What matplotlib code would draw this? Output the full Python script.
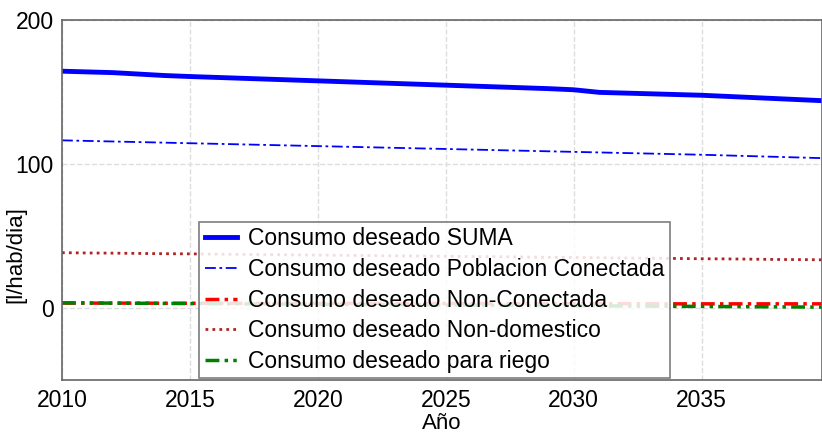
import matplotlib
matplotlib.use("Agg")
import matplotlib.pyplot as plt

years = list(range(2010, 2041))
suma = [164.5, 164.0, 163.5, 162.5, 161.5, 160.8, 160.2, 159.6, 159.0, 158.4,
        157.8, 157.2, 156.6, 156.0, 155.4, 154.8, 154.2, 153.6, 153.0, 152.4,
        151.6, 149.8, 149.3, 148.8, 148.3, 147.8, 147.0, 146.2, 145.4, 144.6, 143.8]
conectada = [116.5, 116.1, 115.7, 115.3, 114.9, 114.5, 114.1, 113.7, 113.3, 112.9,
             112.5, 112.1, 111.7, 111.3, 110.9, 110.5, 110.1, 109.7, 109.3, 108.9,
             108.5, 108.1, 107.7, 107.3, 106.9, 106.5, 106.0, 105.5, 105.0, 104.5, 104.0]
non_conectada = [3.5, 3.5, 3.5, 3.5, 3.4, 3.4, 3.4, 3.4, 3.3, 3.3,
                 3.3, 3.3, 3.3, 3.2, 3.2, 3.2, 3.2, 3.2, 3.1, 3.1,
                 3.1, 3.1, 3.1, 3.0, 3.0, 3.0, 3.0, 3.0, 3.0, 3.0, 3.0]
non_domestico = [38.5, 38.3, 38.2, 38.0, 37.8, 37.7, 37.5, 37.3, 37.2, 37.0,
                 36.8, 36.7, 36.5, 36.3, 36.2, 36.0, 35.8, 35.7, 35.5, 35.3,
                 35.2, 35.0, 34.8, 34.7, 34.5, 34.3, 34.2, 34.0, 33.8, 33.7, 33.5]
riego = [3.7, 3.6, 3.5, 3.4, 3.3, 3.2, 3.1, 3.0, 2.9, 2.8,
         2.7, 2.6, 2.5, 2.4, 2.3, 2.2, 2.1, 2.0, 1.9, 1.8,
         1.7, 1.6, 1.5, 1.4, 1.3, 1.2, 1.1, 1.0, 0.9, 0.8, 0.7]

labels = ["Consumo deseado SUMA", "Consumo deseado Poblacion Conectada",
          "Consumo deseado Non-Conectada", "Consumo deseado Non-domestico",
          "Consumo deseado para riego"]
xticks = [2010, 2015, 2020, 2025, 2030, 2035]
yticks = [0, 100, 200]

plt.rcParams['font.family'] = ['Liberation Sans', 'DejaVu Sans']

fig = plt.figure(figsize=(8.22, 4.36), dpi=100)
ax = fig.add_axes([0.0754, 0.128, 0.9246, 0.826])

ax.plot(years, suma, color='#0000ff', lw=3.5, ls='-', label=labels[0])
ax.plot(years, conectada, color='#0000ff', lw=1.3, ls=(0, (6, 2, 1.5, 2)), label=labels[1])
ax.plot(years, non_conectada, color='#ff0000', lw=2.5, ls=(0, (4, 1.5, 1, 1.5)), label=labels[2])
ax.plot(years, non_domestico, color='#b22222', lw=2.0, ls=(0, (1, 1.5)), label=labels[3])
ax.plot(years, riego, color='#008000', lw=2.5, ls=(0, (4, 1.5, 1, 1.5, 1, 1.5)), label=labels[4])

ax.set_xlim(2010, 2039.7)
ax.set_ylim(-50, 200)
ax.set_xticks(xticks)
ax.set_yticks(yticks)
ax.tick_params(axis='both', length=0, labelsize=16.5, pad=6)
ax.grid(True, color='#dddddd', ls='--', lw=1)
for s in ax.spines.values():
    s.set_color('#666666')
    s.set_linewidth(1.2)
ax.set_xlabel("Año", fontsize=16, labelpad=1)
ax.set_ylabel("[l/hab/dia]", fontsize=16)
ax.yaxis.set_label_coords(-0.047, 0.35)

leg = ax.legend(loc='lower left', bbox_to_anchor=(0.18, 0.005), fontsize=16.5,
                frameon=True, fancybox=False, framealpha=0.85, edgecolor='#666666',
                handlelength=1.4, handletextpad=0.5, borderpad=0.25, labelspacing=0.33,
                borderaxespad=0.0)
leg.get_frame().set_linewidth(1.2)

fig.savefig("out.png", dpi=100)
